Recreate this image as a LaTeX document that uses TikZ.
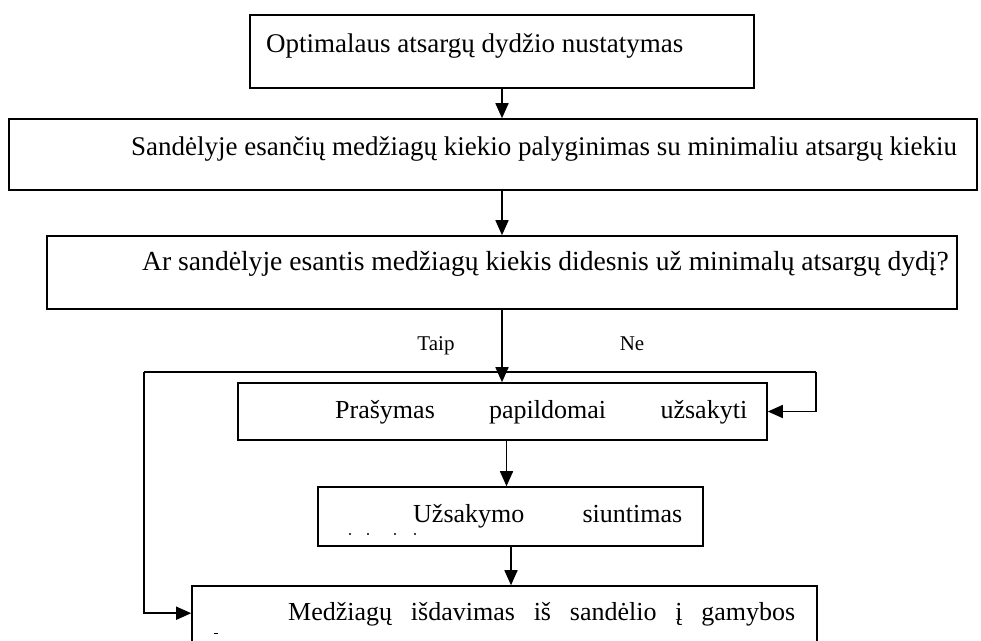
\documentclass[tikz,border=0pt]{standalone}
\usepackage{fontspec}
\setmainfont{Liberation Serif}
\usetikzlibrary{arrows.meta}
\begin{document}
\begin{tikzpicture}[x=1pt,y=-1pt,
  box/.style={draw, line width=1.6pt, inner sep=0pt, rectangle},
  txt/.style={inner sep=0pt, anchor=base west, font=\fontsize{26}{30}\selectfont},
  bigtxt/.style={txt, font=\fontsize{27}{31}\selectfont},
  qtxt/.style={txt, font=\fontsize{27.6}{32}\selectfont},
  lbl/.style={inner sep=0pt, anchor=base, font=\fontsize{21}{25}\selectfont},
  link/.style={line width=1.6pt},
  arr/.style={link, -{Triangle[length=15pt,width=13pt]}}]
\useasboundingbox (0,0) rectangle (981,640);
\clip (0,0) rectangle (981,640);

% process boxes
\node[box, minimum width=504pt, minimum height=73pt] (b1) at (502,51.5) {};
\node[box, minimum width=968pt, minimum height=71pt] (b2) at (493,154.5) {};
\node[box, minimum width=910pt, minimum height=73pt] (b3) at (502,272.5) {};
\node[box, minimum width=529pt, minimum height=57pt] (b4) at (502.5,411.5) {};
\node[box, minimum width=385pt, minimum height=59pt] (b5) at (510.5,516.5) {};
\node[box, minimum width=625pt, minimum height=74pt] (b6) at (504.5,623) {};

% box texts
\node[bigtxt] (t1) at (266,52) {Optimalaus atsargų dydžio nustatymas};
\node[bigtxt] (t2) at (131,155) {Sandėlyje esančių medžiagų kiekio palyginimas su minimaliu atsargų kiekiu};
\node[qtxt] (t3) at (142,270) {Ar sandėlyje esantis medžiagų kiekis didesnis už minimalų atsargų dydį?};
\node[txt] (t4) at (335,418) {\makebox[412pt][s]{Prašymas papildomai užsakyti}};
\node[txt] (t5) at (413,522) {\makebox[269pt][s]{Užsakymo siuntimas}};
\node[txt] (t6) at (288,620) {\makebox[507pt][s]{Medžiagų išdavimas iš sandėlio į gamybos}};

% branch labels
\node[lbl] (taip) at (436,350) {Taip};
\node[lbl] (ne) at (632,350) {Ne};

% tops of the cut-off second text lines
\foreach \xx in {350,368,395,415} \fill (\xx,534) circle (1.1pt);
\fill (214,632.5) rectangle (218,634);

% connectors
\draw[arr] (b1.south) -- (b1.south |- b2.north);
\draw[arr] (b3.north |- b2.south) -- (b3.north);
\draw[arr] (b3.south) -- (b3.south |- b4.north);

\coordinate (jl) at (144,372);
\coordinate (jr) at (816,372);
\coordinate (b6in) at ([yshift=-28pt]b6.north west);
\draw[link] (jl) -- (jr);
\draw[arr] (jr) -- (jr |- b4.east) -- (b4.east);
\draw[arr] (jl) -- (jl |- b6in) -- (b6in);

\draw[arr] ([xshift=4pt]b4.south) -- ([xshift=-4pt]b5.north);
\draw[arr] ([xshift=0.5pt]b5.south) -- ([xshift=6.5pt]b6.north);
\end{tikzpicture}
\end{document}
